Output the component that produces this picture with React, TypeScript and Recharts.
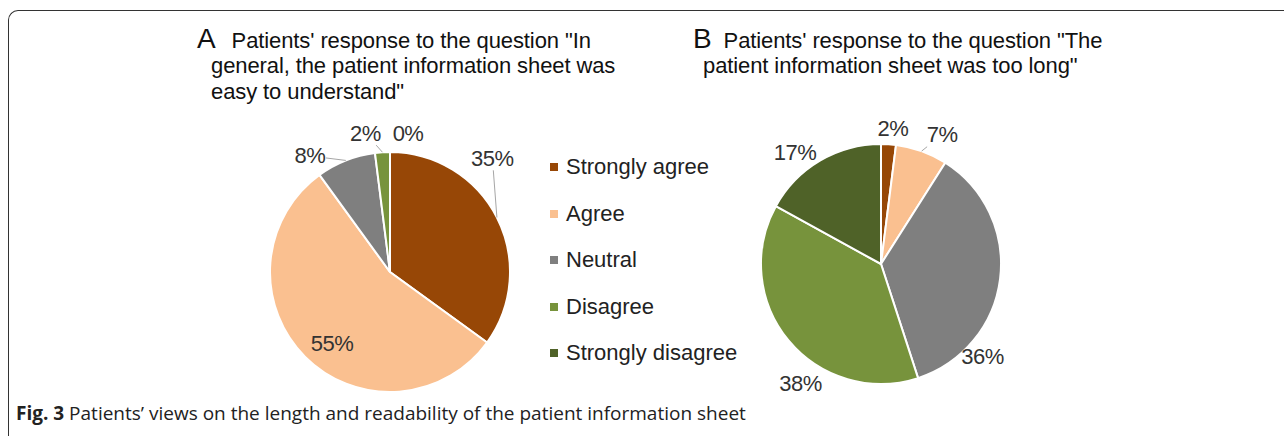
import React from 'react';
import { PieChart, Pie, Cell, Legend } from 'recharts';

const categories = ['Strongly agree', 'Agree', 'Neutral', 'Disagree', 'Strongly disagree'];
const sliceColors = ['#974706', '#FAC090', '#7F7F7F', '#77933C', '#4F6228'];
const easyToUnderstand = [35, 55, 8, 2, 0];
const tooLong = [2, 7, 36, 38, 17];

// label placement (angle nudge from slice middle, distance from centre, leader line)
const labelNudgeA = [21, 6, 13, 6.4, -7.4];
const labelDistA = [153, 92, 141, 141, 140];
const labelLineA = [true, false, true, true, false];
const labelNudgeB = [-1.4, -5.5, -35, 16.4, 7];
const labelDistB = [136, 143, 137, 144, 141];
const labelLineB = [false, true, false, false, false];

const RAD = Math.PI / 180;
const FONT = '"Liberation Sans", Arial, sans-serif';

const dataA = categories.map((name, i) => ({ name, value: easyToUnderstand[i] }));
const dataB = categories.map((name, i) => ({ name, value: tooLong[i] }));

const makeLabel = (nudge: number[], dist: number[], lines: boolean[]) => (props: any) => {
  const { cx, cy, midAngle, outerRadius, index, value } = props;
  const a = (midAngle + nudge[index]) * RAD;
  const lx = cx + dist[index] * Math.cos(a);
  const ly = cy - dist[index] * Math.sin(a);
  const text = `${value}%`;
  let line = null;
  if (lines[index]) {
    const ex = cx + outerRadius * Math.cos(midAngle * RAD);
    const ey = cy - outerRadius * Math.sin(midAngle * RAD);
    const dx = lx - ex;
    const dy = ly - ey;
    const hw = text.length * 6.5 + 3;
    const hh = 12;
    const s = 1 - Math.min(Math.abs(dx) > 0 ? hw / Math.abs(dx) : 99, Math.abs(dy) > 0 ? hh / Math.abs(dy) : 99);
    line = <line x1={ex} y1={ey} x2={ex + s * dx} y2={ey + s * dy} stroke="#A6A6A6" strokeWidth={1} />;
  }
  return (
    <g key={`lbl-${index}`}>
      {line}
      <text x={lx} y={ly} textAnchor="middle" dominantBaseline="central" fontSize={22}
        fontFamily={FONT} fill="#333" letterSpacing={-0.5}>{text}</text>
    </g>
  );
};

const LegendBox = () => (
  <div style={{ fontFamily: FONT, fontSize: 22, color: '#222' }}>
    {categories.map((c, i) => (
      <div key={c} style={{ display: 'flex', alignItems: 'center', height: 46.5 }}>
        <span style={{ width: 8, height: 8, background: sliceColors[i], marginRight: 8 }} />
        <span>{c}</span>
      </div>
    ))}
  </div>
);

const titleLine = (left: number, top: number, content: React.ReactNode) => (
  <div style={{ position: 'absolute', left, top, fontFamily: FONT, fontSize: 22, lineHeight: '26px',
    color: '#111', whiteSpace: 'nowrap', letterSpacing: -0.1 }}>{content}</div>
);

export default function App() {
  return (
    <div style={{ position: 'absolute', left: 0, top: 0, width: 1284, height: 436, overflow: 'hidden', background: '#fff' }}>
      <div style={{ position: 'absolute', left: 8, top: 10, width: 1300, height: 460,
        borderTop: '1.5px solid #333', borderLeft: '1.5px solid #333', borderTopLeftRadius: 10 }} />
      {titleLine(197, 26, <><span style={{ fontSize: 28, marginRight: 16 }}>A</span>Patients' response to the question "In</>)}
      {titleLine(211, 53, 'general, the patient information sheet was')}
      {titleLine(211, 79, 'easy to understand"')}
      {titleLine(693, 26, <><span style={{ fontSize: 28, marginRight: 12 }}>B</span>Patients' response to the question "The</>)}
      {titleLine(703, 53, 'patient information sheet was too long"')}

      <div style={{ position: 'absolute', left: 0, top: 0 }}>
        <PieChart width={1284} height={436} margin={{ top: 0, right: 0, bottom: 0, left: 0 }}>
          <Pie data={dataA} dataKey="value" nameKey="name" cx={390} cy={272} outerRadius={120}
            startAngle={90} endAngle={-270} stroke="#fff" strokeWidth={2} isAnimationActive={false}
            labelLine={false} label={makeLabel(labelNudgeA, labelDistA, labelLineA)}>
            {dataA.map((d, i) => <Cell key={d.name} fill={sliceColors[i]} />)}
          </Pie>
          <Pie data={dataB} dataKey="value" nameKey="name" cx={881} cy={264} outerRadius={120}
            startAngle={90} endAngle={-270} stroke="#fff" strokeWidth={2} isAnimationActive={false}
            labelLine={false} label={makeLabel(labelNudgeB, labelDistB, labelLineB)}>
            {dataB.map((d, i) => <Cell key={d.name} fill={sliceColors[i]} />)}
          </Pie>
          <Legend layout="vertical" align="center" verticalAlign="middle" content={() => <LegendBox />}
            wrapperStyle={{ position: 'absolute', left: 550, top: 144, width: 220 }} />
        </PieChart>
      </div>

      <div style={{ position: 'absolute', left: 16, top: 400, fontFamily: '"Open Sans", sans-serif', fontSize: 19,
        color: '#222', whiteSpace: 'nowrap' }}>
        <b>Fig. 3</b> Patients’ views on the length and readability of the patient information sheet
      </div>
    </div>
  );
}
